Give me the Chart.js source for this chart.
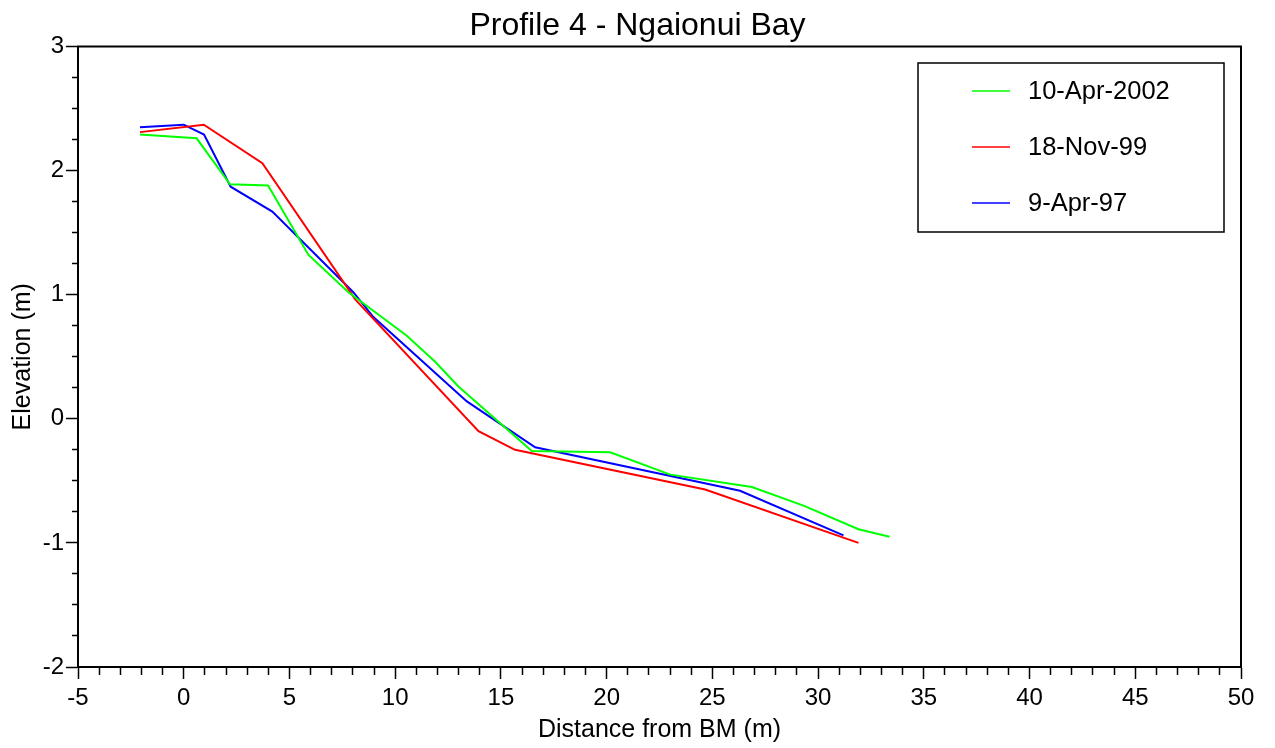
<!DOCTYPE html>
<html>
<head>
<meta charset="utf-8">
<title>Profile 4 - Ngaionui Bay</title>
<script src="https://cdn.jsdelivr.net/npm/chart.js@4.4.1/dist/chart.umd.min.js"></script>
<style>
    body { margin: 0; background: #fff; }
    canvas { display: block; }
</style>
</head>
<body>
<canvas id="profileChart" width="1275" height="748"></canvas>
<script>
// Survey data
const seriesNames = ['10-Apr-2002', '18-Nov-99', '9-Apr-97'];
const seriesColors = ['#00ff00', '#ff0000', '#0000ff'];

const distance2002 = [-2.07, 0.61, 2.19, 3.99, 5.9, 7.79, 10.55, 11.89, 12.99, 16.46, 20.17, 23.01, 26.87, 29.31, 31.91, 33.38];
const elevation2002 = [2.29, 2.26, 1.89, 1.88, 1.32, 1.02, 0.67, 0.46, 0.26, -0.26, -0.27, -0.45, -0.55, -0.70, -0.89, -0.95];

const distance1999 = [-2.07, 0.95, 3.72, 8.12, 13.94, 15.67, 24.66, 31.91];
const elevation1999 = [2.31, 2.37, 2.06, 0.96, -0.10, -0.25, -0.57, -1.0];

const distance1997 = [-2.07, 0, 0.96, 2.22, 4.19, 8.02, 8.97, 13.39, 16.62, 26.31, 31.2];
const elevation1997 = [2.35, 2.37, 2.29, 1.87, 1.67, 1.02, 0.82, 0.14, -0.23, -0.58, -0.94];

// Labelled ticks (minor ticks in between have no label)
const xTickLabels = [-5, 0, 5, 10, 15, 20, 25, 30, 35, 40, 45, 50];
const yTickLabels = [-2, -1, 0, 1, 2, 3];

const FONT = '"Liberation Sans", Arial, sans-serif';

const toPoints = (xs, ys) => xs.map((x, i) => ({ x: x, y: ys[i] }));

const allDistances = [distance2002, distance1999, distance1997];
const allElevations = [elevation2002, elevation1999, elevation1997];

const datasets = seriesNames.map((name, i) => ({
    label: name,
    data: toPoints(allDistances[i], allElevations[i]),
    borderColor: seriesColors[i],
    backgroundColor: seriesColors[i],
    borderWidth: 2,
    pointRadius: 0,
    showLine: true,
    tension: 0
}));

// box round the plot area
const framePlugin = {
    id: 'frame',
    afterDraw(chart) {
        const { ctx, chartArea: a } = chart;
        ctx.save();
        ctx.strokeStyle = '#000';
        ctx.lineWidth = 2;
        ctx.strokeRect(a.left, a.top, a.right - a.left, a.bottom - a.top);
        ctx.restore();
    }
};

// legend box in the top right corner of the plot
const boxLegendPlugin = {
    id: 'boxLegend',
    afterDraw(chart) {
        const { ctx, chartArea: a } = chart;
        const w = 306, h = 169;
        const left = a.right - 17 - w;
        const top = a.top + 16.5;
        ctx.save();
        ctx.fillStyle = '#fff';
        ctx.fillRect(left, top, w, h);
        ctx.strokeStyle = '#000';
        ctx.lineWidth = 1.5;
        ctx.strokeRect(left, top, w, h);
        ctx.font = '25.5px ' + FONT;
        ctx.textBaseline = 'middle';
        ctx.textAlign = 'left';
        chart.data.datasets.forEach((ds, i) => {
            const y = top + 28 + i * 56;
            ctx.strokeStyle = ds.borderColor;
            ctx.lineWidth = 1.5;
            ctx.beginPath();
            ctx.moveTo(left + 54, y);
            ctx.lineTo(left + 92, y);
            ctx.stroke();
            ctx.fillStyle = '#000';
            ctx.fillText(ds.label, left + 110, y + 1);
        });
        ctx.restore();
    }
};

const ctxProfile = document.getElementById('profileChart').getContext('2d');
new Chart(ctxProfile, {
    type: 'scatter',
    data: { datasets: datasets },
    options: {
        responsive: false,
        animation: false,
        layout: { padding: 0 },
        plugins: {
            legend: { display: false },
            tooltip: { enabled: false },
            title: {
                display: true,
                text: 'Profile 4 - Ngaionui Bay',
                color: '#000',
                font: { family: FONT, size: 32, weight: 'normal' },
                padding: { top: 6.8, bottom: 1.3 }
            }
        },
        scales: {
            x: {
                type: 'linear',
                min: -5,
                max: 50,
                afterFit(scale) { scale.height = 81; },
                border: { color: '#000', width: 2 },
                grid: {
                    drawOnChartArea: false,
                    tickLength: 12,
                    tickColor: '#000',
                    tickWidth: 1.5,
                    tickBorderDash: c => (xTickLabels.includes(c.tick.value) ? [] : [7, 50])
                },
                ticks: {
                    stepSize: 1,
                    autoSkip: false,
                    maxRotation: 0,
                    padding: 5,
                    color: '#000',
                    font: { family: FONT, size: 24 },
                    callback: v => (xTickLabels.includes(v) ? String(v) : '')
                },
                title: {
                    display: true,
                    text: 'Distance from BM (m)',
                    color: '#000',
                    font: { family: FONT, size: 25 },
                    padding: { top: 0, bottom: 3.2 }
                }
            },
            y: {
                type: 'linear',
                min: -2,
                max: 3,
                afterFit(scale) { scale.width = 78; },
                border: { color: '#000', width: 2 },
                grid: {
                    drawOnChartArea: false,
                    tickLength: 12,
                    tickColor: '#000',
                    tickWidth: 1.5,
                    tickBorderDash: c => (yTickLabels.includes(c.tick.value) ? [] : [0, 6, 6, 50])
                },
                ticks: {
                    stepSize: 0.25,
                    autoSkip: false,
                    padding: 2,
                    color: '#000',
                    font: { family: FONT, size: 24 },
                    callback: v => (yTickLabels.includes(v) ? String(v) : '')
                },
                title: {
                    display: true,
                    text: 'Elevation (m)',
                    color: '#000',
                    font: { family: FONT, size: 25 },
                    padding: { top: 8.5, bottom: 0 }
                }
            },
            // empty strip on the right so the plot ends where the original does
            yRight: {
                type: 'linear',
                position: 'right',
                min: -2,
                max: 3,
                afterFit(scale) { scale.width = 34; },
                border: { display: false },
                grid: { display: false },
                ticks: { display: false }
            }
        }
    },
    plugins: [framePlugin, boxLegendPlugin]
});
</script>
</body>
</html>
